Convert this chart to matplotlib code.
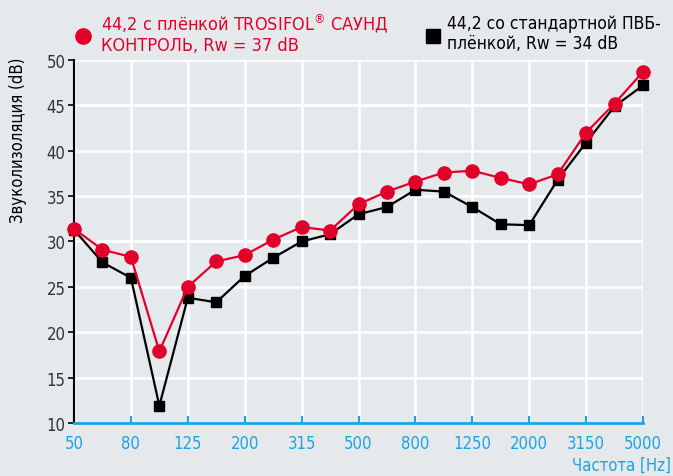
import numpy as np
import matplotlib.pyplot as plt
from matplotlib.lines import Line2D

freqs = ["50", "63", "80", "100", "125", "160", "200", "250", "315", "400", "500",
         "630", "800", "1000", "1250", "1600", "2000", "2500", "3150", "4000", "5000"]
trosifol = [31.4, 29.1, 28.3, 17.9, 25.0, 27.8, 28.5, 30.2, 31.6, 31.2, 34.1,
            35.5, 36.6, 37.6, 37.8, 37.0, 36.3, 37.4, 42.0, 45.2, 48.7]
standard = [31.3, 27.7, 26.0, 11.9, 23.8, 23.3, 26.2, 28.2, 30.0, 30.8, 33.0,
            33.8, 35.7, 35.5, 33.8, 31.9, 31.8, 36.8, 40.9, 44.9, 47.2]
yticks = [10, 15, 20, 25, 30, 35, 40, 45, 50]

red = "#e2002b"
blue = "#1ca3e3"
bg = "#e6e9ec"
plt.rcParams["font.family"] = ["DejaVu Sans"]
plt.rcParams["font.stretch"] = "condensed"

fig = plt.figure(figsize=(6.73, 4.77), dpi=100, facecolor=bg)
ax = fig.add_axes([74 / 673, 1 - 424 / 477, (643 - 74) / 673, (424 - 61) / 477])
ax.set_facecolor(bg)

x = np.arange(len(freqs))
ax.plot(x, standard, color="black", lw=1.6, marker="s", ms=6.5, clip_on=False, zorder=3)
ax.plot(x, trosifol, color=red, lw=1.6, marker="o", ms=9.5, clip_on=False, zorder=4)

ax.set_xlim(0, 20)
ax.set_ylim(10, 50)
ax.set_xticks(x[::2])
ax.set_xticklabels(freqs[::2])
ax.set_yticks(yticks)

ax.grid(True, color="white", lw=1.8, zorder=0)
ax.set_axisbelow(True)
for s in ["top", "right"]:
    ax.spines[s].set_visible(False)
ax.spines["left"].set_color("black")
ax.spines["left"].set_linewidth(1.5)
ax.spines["bottom"].set_color(blue)
ax.spines["bottom"].set_linewidth(2)
ax.spines["bottom"].set_zorder(5)

ax.tick_params(axis="x", direction="in", length=5, width=1.5, color=blue,
               labelcolor=blue, labelsize=12, pad=8)
ax.tick_params(axis="y", direction="out", length=4, width=1.2, color="black",
               labelcolor="#333333", labelsize=12, pad=2)

fig.text(18 / 673, 1 - 140 / 477, "Звуколизоляция (dB)", rotation=90, ha="center",
         va="center", fontsize=12, color="black")
fig.text(671 / 673, 1 - 466 / 477, "Частота [Hz]", ha="right", va="center",
         fontsize=12, color=blue)

fig.add_artist(Line2D([83 / 673], [1 - 37 / 477], marker="o", ms=11, color=red,
                      transform=fig.transFigure))
fig.text(101 / 673, 1 - 34 / 477, "44,2 с плёнкой TROSIFOL$^{®}$ САУНД\nКОНТРОЛЬ, Rw = 37 dB",
         ha="left", va="center", fontsize=13, color=red, linespacing=1.12)
fig.add_artist(Line2D([433 / 673], [1 - 37 / 477], marker="s", ms=10, color="black",
                      transform=fig.transFigure))
fig.text(447 / 673, 1 - 34 / 477, "44,2 со стандартной ПВБ-\nплёнкой, Rw = 34 dB",
         ha="left", va="center", fontsize=12.5, color="black", linespacing=1.15)

fig.savefig("out.png", dpi=100, facecolor=bg)
